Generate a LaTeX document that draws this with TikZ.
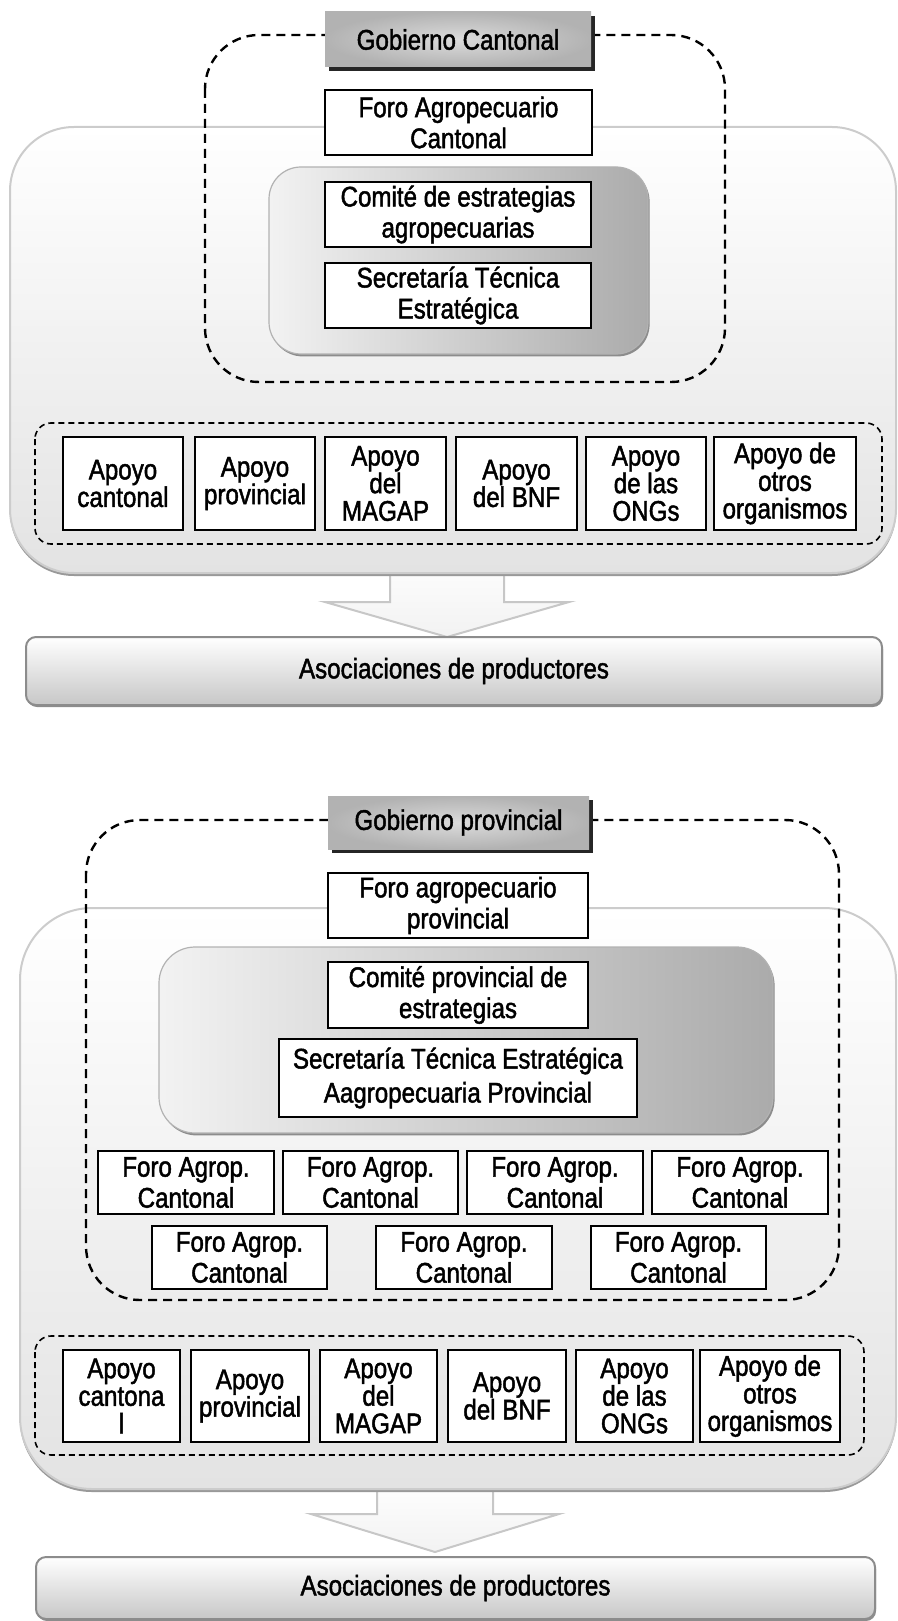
\documentclass[tikz,border=0pt]{standalone}
\usepackage{fontspec}
\setmainfont[FakeStretch=0.85, FakeBold=1.6]{Liberation Sans}
\usetikzlibrary{shadows}

\tikzset{
  caja/.style={draw=black, line width=1pt, fill=white, inner sep=0pt, outer sep=0pt,
    align=center, font=\fontsize{14.2}{15.5}\selectfont},
  apoyo/.style={caja, font=\fontsize{14.2}{13.8}\selectfont},
  gobierno/.style={caja, draw=none, inner color=black!14, outer color=black!30,
    drop shadow={shadow xshift=2pt, shadow yshift=-2pt, fill=black!85, opacity=1}},
  asoc/.style={caja, draw=black!45, rounded corners=5pt, top color=white, bottom color=black!22,
    drop shadow={shadow xshift=0.5pt, shadow yshift=-1pt, fill=black!45, opacity=1}},
  marco/.style={draw=black!20, line width=1pt, top color=white, bottom color=black!11,
    drop shadow={shadow xshift=0pt, shadow yshift=-1.5pt, fill=black!40, opacity=1}},
  nucleo/.style={draw=black!30, line width=.6pt, left color=black!5, right color=black!33,
    drop shadow={shadow xshift=.8pt, shadow yshift=-1.2pt, fill=black!45, opacity=1}},
  limite/.style={draw=black, line width=1.2pt, dash pattern=on 4.5pt off 3pt, rounded corners=27pt},
  soporte/.style={draw=black, line width=.8pt, dash pattern=on 3pt off 2pt, rounded corners=8pt},
  flecha/.style={draw=black!22, line width=1pt, top color=white, bottom color=black!5}
}

\begin{document}
\begin{tikzpicture}[x=0.5pt, y=-0.5pt]
  % box from corners: [style]{name}{x1}{y1}{x2}{y2}{text}
  \newcommand{\caja}[7][caja]{%
    \node[#1, minimum width={(#5-#3)*0.5pt}, minimum height={(#6-#4)*0.5pt}]
      (#2) at ({(#3+#5)/2},{(#4+#6)/2}) {#7};}
  \useasboundingbox (0,0) rectangle (898,1621);

  % ---------- canton ----------
  \path[flecha] (390,550) -- (390,602) -- (325,602) -- (447,637) -- (569,602)
    -- (504,602) -- (504,550) -- cycle;
  \path[marco, rounded corners=32pt] (10,127) rectangle (896,573);
  \path[limite] (205,35) rectangle (725,382);
  \caja[gobierno]{gobC}{325}{12}{591}{67}{Gobierno Cantonal}
  \caja{foroC}{325}{90}{592}{155}{Foro Agropecuario\\Cantonal}
  \path[nucleo, rounded corners=16pt] (269,167) rectangle (648,354);
  \caja{comiteC}{325}{182}{591}{247}{Comité de estrategias\\agropecuarias}
  \caja{secC}{325}{263}{591}{328}{Secretaría Técnica\\Estratégica}
  \path[soporte] (35,423) rectangle (882,544);
  \foreach \xa/\xb/\txt [count=\i] in {63/183/{Apoyo\\cantonal}, 195/315/{Apoyo\\provincial},
      325/446/{Apoyo\\del\\MAGAP}, 456/577/{Apoyo\\del BNF}, 586/706/{Apoyo\\de las\\ONGs},
      714/856/{Apoyo de\\otros\\organismos}}
    {\caja[apoyo]{apC\i}{\xa}{437}{\xb}{530}{\txt}}
  \caja[asoc]{asocC}{26}{637}{882}{705}{Asociaciones de productores}

  % ---------- provincia ----------
  \path[flecha] (377,1475) -- (377,1514) -- (311,1514) -- (435,1552) -- (559,1514)
    -- (493,1514) -- (493,1475) -- cycle;
  \path[marco, rounded corners=36pt] (20,908) rectangle (896,1489);
  \path[limite] (86,820) rectangle (839,1300);
  \caja[gobierno]{gobP}{328}{796}{589}{849}{Gobierno provincial}
  \caja{foroP}{328}{873}{588}{938}{Foro agropecuario\\provincial}
  \path[nucleo, rounded corners=18pt] (159,947) rectangle (773,1133);
  \caja{comiteP}{328}{962}{588}{1028}{Comité provincial de\\estrategias}
  \caja[caja, font=\fontsize{14.2}{17}\selectfont]{secP}{279}{1039}{637}{1117}
    {Secretaría Técnica Estratégica\\Aagropecuaria Provincial}
  \foreach \xa/\xb [count=\i] in {98/274, 283/458, 467/643, 652/828}
    {\caja{foroA\i}{\xa}{1151}{\xb}{1214}{Foro Agrop.\\Cantonal}}
  \foreach \xa/\xb [count=\i] in {152/327, 376/552, 591/766}
    {\caja{foroB\i}{\xa}{1226}{\xb}{1289}{Foro Agrop.\\Cantonal}}
  \path[soporte] (35,1336) rectangle (864,1455);
  \foreach \xa/\xb/\txt [count=\i] in {63/180/{Apoyo\\cantona\\l}, 191/309/{Apoyo\\provincial},
      320/437/{Apoyo\\del\\MAGAP}, 448/566/{Apoyo\\del BNF}, 576/693/{Apoyo\\de las\\ONGs},
      700/840/{Apoyo de\\otros\\organismos}}
    {\caja[apoyo]{apP\i}{\xa}{1350}{\xb}{1442}{\txt}}
  \caja[asoc]{asocP}{36}{1557}{875}{1619}{Asociaciones de productores}
\end{tikzpicture}
\end{document}
